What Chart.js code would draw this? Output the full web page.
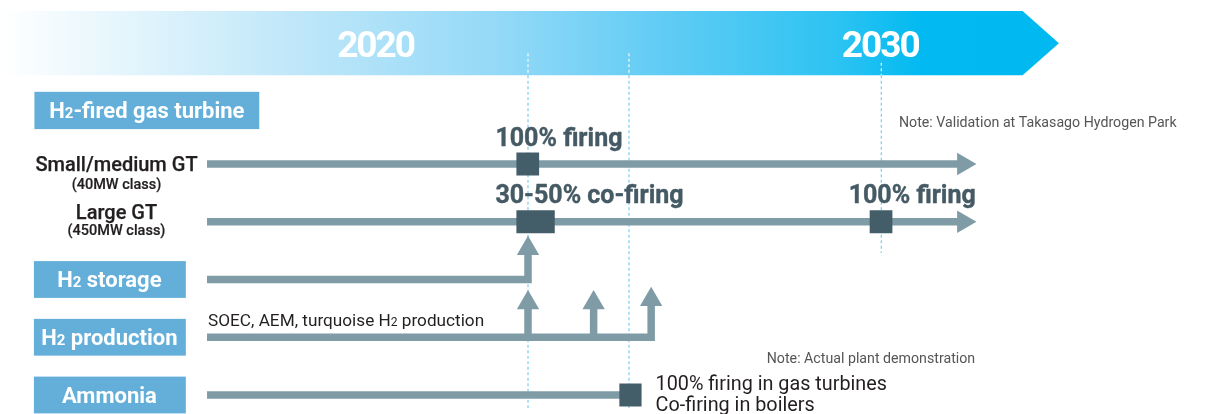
<!DOCTYPE html>
<html><head><meta charset="utf-8">
<script src="https://cdn.jsdelivr.net/npm/chart.js@4/dist/chart.umd.min.js"></script>
<style>
html,body{margin:0;padding:0;background:#fff;overflow:hidden}
#wrap{width:1210px;height:414px;position:relative}
</style>
</head><body><div id="wrap"><canvas id="c"></canvas></div>
<script>
// ---------------- data ----------------
const yearLabels = [2020, 2030];
const guideYears = [2023, 2025, 2030];
const guideTopRow = [-1.917, -1.917, -1.754];
const guideEndRow = [4.225, 4.225, 1.541];

const groupHeader = 'H2-fired gas turbine';
const rows = ['Small/medium GT', 'Large GT', 'H2 storage', 'H2 production', 'Ammonia'];
const rowSubLabels = ['(40MW class)', '(450MW class)', '', '', ''];
const rowIsBox = [false, false, true, true, true];

const trackStart = [2016.64, 2016.64, 2016.64, 2016.64, 2016.64];
const trackEnd = [2031.63, 2031.63, 2023.0, 2025.44, 2025.03];
const trackArrow = [true, true, false, false, false];
const trackText = ['', '', '', 'SOEC, AEM, turquoise H2 production', ''];

const branchYear = [2023.0, 2023.0, 2024.30, 2025.44];
const branchFromRow = [2, 3, 3, 3];
const branchToRow = [1.465, 2.405, 2.405, 2.348];

const msRow = [0, 1, 1, 4];
const msStart = [2022.77, 2022.77, 2029.77, 2024.81];
const msEnd = [2023.22, 2023.53, 2030.22, 2025.25];
const msLabel = ['100% firing', '30-50% co-firing', '100% firing', '100% firing in gas turbines\nCo-firing in boilers'];

const notes = ['Note: Validation at Takasago Hydrogen Park', 'Note: Actual plant demonstration'];

// ---------------- layout / style ----------------
const X_MIN = 2012.538, X_MAX = 2036.513;
const Y_MIN = -2.840, Y_MAX = 4.329;
const BANNER = {top: -2.649, bottom: -1.536, end: 2033.52 - 0.72, tip: 2033.52, labelRow: -1.848};
const LINE_C = '#7f9ca6', MARK_C = '#435d69', BOX_C = '#63afda', GUIDE_C = '#7ccdf0';
const FONT = 'Roboto, "Open Sans", sans-serif';
const LINE_W = 7.5, HEAD_R = 12.9, MARK_H = 23;

// ---------------- datasets ----------------
const datasets = [];
guideYears.forEach((g, i) => {
  datasets.push({
    data: [{x: g, y: guideTopRow[i]}, {x: g, y: BANNER.bottom}, {x: g, y: guideEndRow[i]}],
    borderColor: GUIDE_C, borderWidth: 1.2, borderDash: [3, 2.5], pointRadius: 0, order: 6,
    segment: {borderColor: c => c.p0DataIndex === 0 ? 'rgba(255,255,255,0.9)' : GUIDE_C}
  });
});
rows.forEach((r, i) => {
  const pts = [{x: trackStart[i], y: i}, {x: trackEnd[i], y: i}];
  branchYear.forEach((b, k) => {
    if (branchFromRow[k] === i && b === trackEnd[i]) pts.push({x: b, y: branchToRow[k]});
  });
  datasets.push({data: pts, borderColor: LINE_C, borderWidth: LINE_W, borderJoinStyle: 'miter', pointRadius: 0, order: 5});
});
branchYear.forEach((b, k) => {
  if (b === trackEnd[branchFromRow[k]]) return;
  datasets.push({data: [{x: b, y: branchFromRow[k]}, {x: b, y: branchToRow[k]}], borderColor: LINE_C, borderWidth: LINE_W, pointRadius: 0, order: 5});
});
const heads = [], rots = [];
rows.forEach((r, i) => { if (trackArrow[i]) { heads.push({x: trackEnd[i], y: i}); rots.push(90); } });
branchYear.forEach((b, k) => { heads.push({x: b, y: branchToRow[k]}); rots.push(0); });
datasets.push({data: heads, showLine: false, pointStyle: 'triangle', pointRotation: rots, pointRadius: HEAD_R,
  pointBackgroundColor: LINE_C, pointBorderWidth: 0, order: 4});
msRow.forEach((r, k) => {
  datasets.push({data: [{x: msStart[k], y: r}, {x: msEnd[k], y: r}], borderColor: MARK_C, borderWidth: MARK_H,
    borderCapStyle: 'butt', pointRadius: 0, order: 3});
});

// ---------------- helpers ----------------
function drawRich(ctx, text, x, y, size, weight, color, align, stroke) {
  const parts = []; const re = /H2/g; let last = 0, m;
  while ((m = re.exec(text))) { parts.push({t: text.slice(last, m.index) + 'H', s: false}); parts.push({t: '2', s: true}); last = m.index + 2; }
  parts.push({t: text.slice(last), s: false});
  const fN = `${weight} ${size}px ${FONT}`, fS = `${weight} ${Math.round(size * 0.7)}px ${FONT}`;
  let w = 0;
  parts.forEach(p => { ctx.font = p.s ? fS : fN; p.w = ctx.measureText(p.t).width; w += p.w; });
  let cx = align === 'center' ? x - w / 2 : align === 'right' ? x - w : x;
  ctx.fillStyle = color; ctx.strokeStyle = color; ctx.textAlign = 'left'; ctx.textBaseline = 'alphabetic';
  ctx.lineJoin = 'round';
  parts.forEach(p => {
    ctx.font = p.s ? fS : fN; ctx.fillText(p.t, cx, y);
    if (stroke) { ctx.lineWidth = stroke; ctx.strokeText(p.t, cx, y); }
    cx += p.w;
  });
}

const roadmapPlugin = {
  id: 'roadmap',
  beforeDatasetsDraw(chart) {
    const ctx = chart.ctx, X = v => chart.scales.x.getPixelForValue(v), Y = v => chart.scales.y.getPixelForValue(v);
    const t = Y(BANNER.top), b = Y(BANNER.bottom), l = X(X_MIN), e = X(BANNER.end), tip = X(BANNER.tip);
    ctx.save();
    const g = ctx.createLinearGradient(l, 0, tip, 0);
    g.addColorStop(0, '#ffffff'); g.addColorStop(0.28, '#bfe7f9'); g.addColorStop(0.47, '#94d9f7');
    g.addColorStop(0.64, '#5ccbf4'); g.addColorStop(0.79, '#2dc3f2'); g.addColorStop(0.87, '#02baf1'); g.addColorStop(1, '#00b9f0');
    ctx.fillStyle = g;
    ctx.beginPath(); ctx.moveTo(l, t); ctx.lineTo(e, t); ctx.lineTo(tip, (t + b) / 2); ctx.lineTo(e, b); ctx.lineTo(l, b); ctx.closePath(); ctx.fill();
    ctx.fillStyle = '#ffffff'; ctx.font = `bold 37px ${FONT}`; ctx.textAlign = 'center'; ctx.textBaseline = 'alphabetic';
    try { ctx.letterSpacing = '-2px'; } catch (err) {}
    yearLabels.forEach(yr => ctx.fillText(String(yr), X(yr) - 1, Y(BANNER.labelRow)));
    try { ctx.letterSpacing = '0px'; } catch (err) {}
    ctx.restore();
  },
  afterDatasetsDraw(chart) {
    const ctx = chart.ctx, X = v => chart.scales.x.getPixelForValue(v), Y = v => chart.scales.y.getPixelForValue(v);
    ctx.save();
    // group header box
    const bx = X(2013.22), hy = Y(-0.928);
    ctx.fillStyle = BOX_C; ctx.fillRect(bx, hy - 18.6, X(2017.675) - bx, 37.3);
    drawRich(ctx, groupHeader, (bx + X(2017.675)) / 2, hy + 7.9, 22, 'bold', '#ffffff', 'center');
    // row labels
    const mainOff = [7, -3], subOff = [25, 13.5];
    rows.forEach((r, i) => {
      const y = Y(i);
      if (rowIsBox[i]) {
        const x1 = X(2013.21), x2 = X(2016.22);
        ctx.fillStyle = BOX_C; ctx.fillRect(x1, y - 18.4, x2 - x1, 36.8);
        drawRich(ctx, r, (x1 + x2) / 2 - 0.5, y + 7.8, 22, 'bold', '#ffffff', 'center');
      } else {
        drawRich(ctx, r, 116.5, y + mainOff[i], 20, '500', '#231f20', 'center', 0.25);
        drawRich(ctx, rowSubLabels[i], 116.5, y + subOff[i], 14.5, '500', '#231f20', 'center', 0.2);
      }
      if (trackText[i]) drawRich(ctx, trackText[i], X(trackStart[i]) + 1, y - 11, 17.2, 'normal', '#231f20', 'left');
    });
    // milestone labels
    msRow.forEach((r, k) => {
      const lines = msLabel[k].split('\n');
      if (r === 4) {
        lines.forEach((s, j) => drawRich(ctx, s, X(msEnd[k]) + 14, Y(r) - 5 + j * 21, 19.8, 'normal', '#231f20', 'left'));
      } else {
        drawRich(ctx, lines[0], X(msStart[k]) - 21, Y(r) - MARK_H / 2 - 7, 25, 'bold', '#455a64', 'left', 0.4);
      }
    });
    // notes
    drawRich(ctx, notes[0], X(2030.35), Y(-0.645), 14.2, 'normal', '#555555', 'left');
    drawRich(ctx, notes[1], X(2031.86), Y(3.451), 14.2, 'normal', '#555555', 'right');
    ctx.restore();
  }
};

new Chart(document.getElementById('c'), {
  type: 'line',
  data: {datasets},
  options: {
    responsive: true, maintainAspectRatio: false, animation: false, events: [],
    layout: {padding: 0, autoPadding: false},
    plugins: {legend: {display: false}, tooltip: {enabled: false}},
    elements: {line: {tension: 0, fill: false}},
    datasets: {line: {clip: false}},
    scales: {
      x: {type: 'linear', display: false, min: X_MIN, max: X_MAX},
      y: {type: 'linear', display: false, reverse: true, min: Y_MIN, max: Y_MAX}
    }
  },
  plugins: [roadmapPlugin]
});
</script>
</body></html>
